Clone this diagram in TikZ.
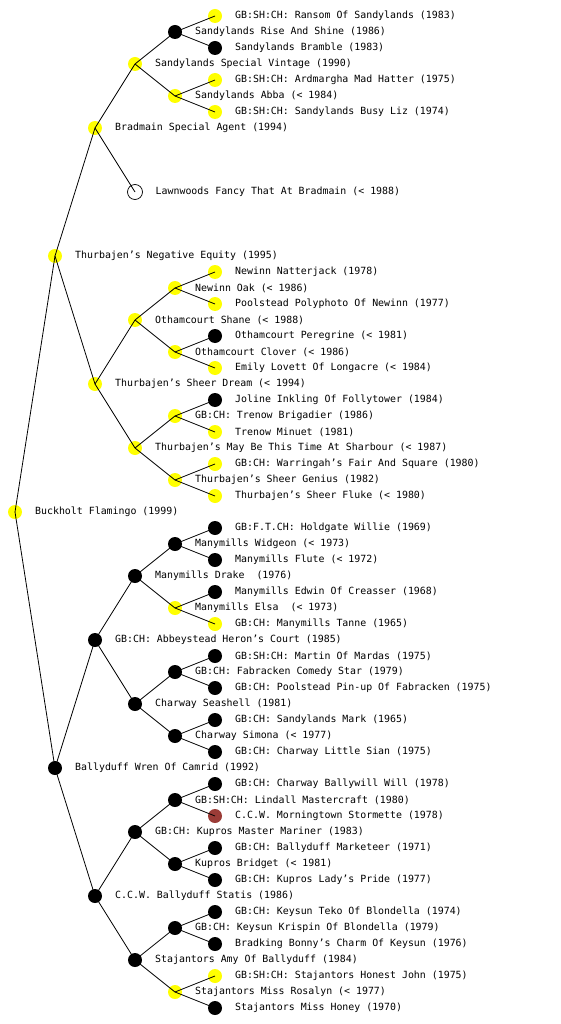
\documentclass[tikz,border=0pt]{standalone}
\usepackage{fontspec}
\usepackage{xcolor}
\usepackage{tikz}
\newfontfamily\dogfont{DejaVu Sans Mono}
\definecolor{DogYellow}{RGB}{255,255,0}
\definecolor{DogRed}{RGB}{155,60,55}
\tikzset{
  % Marcatori dei cani
  dog/.style={circle,minimum size=14,inner sep=0,outer sep=0},
  dog yes/.style={dog,fill=DogYellow},
  dog no/.style={dog,fill=black},
  dog red/.style={dog,fill=DogRed},
  dog open/.style={dog,draw=black,line width=0.7,minimum size=15},
  % Nomi a destra del marcatore
  dogname/.style={anchor=west,inner sep=0,font=\dogfont\fontsize{9.9}{12}\selectfont},
  nm/.style={label={[dogname,label distance=13]0:#1}},
  link/.style={black,line width=0.8}
}
\begin{document}
\begin{tikzpicture}[x=1pt,y=-1pt]
  \useasboundingbox (0,0) rectangle (560,1024);
  % generazione 0-2
  \node[dog yes,nm={Buckholt Flamingo (1999)}] (p) at (15,512) {};
  \node[dog yes,nm={Thurbajen’s Negative Equity (1995)}] (p0) at (55,256) {};
  \node[dog no,nm={Ballyduff Wren Of Camrid (1992)}] (p1) at (55,768) {};
  \node[dog yes,nm={Bradmain Special Agent (1994)}] (p00) at (95,128) {};
  \node[dog yes,nm={Thurbajen’s Sheer Dream (< 1994)}] (p01) at (95,384) {};
  \node[dog no,nm={GB:CH: Abbeystead Heron’s Court (1985)}] (p10) at (95,640) {};
  \node[dog no,nm={C.C.W. Ballyduff Statis (1986)}] (p11) at (95,896) {};
  % generazione 3
  \node[dog yes,nm={Sandylands Special Vintage (1990)}] (p000) at (135,64) {};
  \node[dog open,nm={Lawnwoods Fancy That At Bradmain (< 1988)}] (p001) at (135,192) {};
  \node[dog yes,nm={Othamcourt Shane (< 1988)}] (p010) at (135,320) {};
  \node[dog yes,nm={Thurbajen’s May Be This Time At Sharbour (< 1987)}] (p011) at (135,448) {};
  \node[dog no,nm={Manymills Drake\ \ (1976)}] (p100) at (135,576) {};
  \node[dog no,nm={Charway Seashell (1981)}] (p101) at (135,704) {};
  \node[dog no,nm={GB:CH: Kupros Master Mariner (1983)}] (p110) at (135,832) {};
  \node[dog no,nm={Stajantors Amy Of Ballyduff (1984)}] (p111) at (135,960) {};
  % generazione 4
  \node[dog no,nm={Sandylands Rise And Shine (1986)}] (p0000) at (175,32) {};
  \node[dog yes,nm={Sandylands Abba (< 1984)}] (p0001) at (175,96) {};
  \node[dog yes,nm={Newinn Oak (< 1986)}] (p0100) at (175,288) {};
  \node[dog yes,nm={Othamcourt Clover (< 1986)}] (p0101) at (175,352) {};
  \node[dog yes,nm={GB:CH: Trenow Brigadier (1986)}] (p0110) at (175,416) {};
  \node[dog yes,nm={Thurbajen’s Sheer Genius (1982)}] (p0111) at (175,480) {};
  \node[dog no,nm={Manymills Widgeon (< 1973)}] (p1000) at (175,544) {};
  \node[dog yes,nm={Manymills Elsa\ \ (< 1973)}] (p1001) at (175,608) {};
  \node[dog no,nm={GB:CH: Fabracken Comedy Star (1979)}] (p1010) at (175,672) {};
  \node[dog no,nm={Charway Simona (< 1977)}] (p1011) at (175,736) {};
  \node[dog no,nm={GB:SH:CH: Lindall Mastercraft (1980)}] (p1100) at (175,800) {};
  \node[dog no,nm={Kupros Bridget (< 1981)}] (p1101) at (175,864) {};
  \node[dog no,nm={GB:CH: Keysun Krispin Of Blondella (1979)}] (p1110) at (175,928) {};
  \node[dog yes,nm={Stajantors Miss Rosalyn (< 1977)}] (p1111) at (175,992) {};
  % generazione 5
  \node[dog yes,nm={GB:SH:CH: Ransom Of Sandylands (1983)}] (p00000) at (215,16) {};
  \node[dog no,nm={Sandylands Bramble (1983)}] (p00001) at (215,48) {};
  \node[dog yes,nm={GB:SH:CH: Ardmargha Mad Hatter (1975)}] (p00010) at (215,80) {};
  \node[dog yes,nm={GB:SH:CH: Sandylands Busy Liz (1974)}] (p00011) at (215,112) {};
  \node[dog yes,nm={Newinn Natterjack (1978)}] (p01000) at (215,272) {};
  \node[dog yes,nm={Poolstead Polyphoto Of Newinn (1977)}] (p01001) at (215,304) {};
  \node[dog no,nm={Othamcourt Peregrine (< 1981)}] (p01010) at (215,336) {};
  \node[dog yes,nm={Emily Lovett Of Longacre (< 1984)}] (p01011) at (215,368) {};
  \node[dog no,nm={Joline Inkling Of Follytower (1984)}] (p01100) at (215,400) {};
  \node[dog yes,nm={Trenow Minuet (1981)}] (p01101) at (215,432) {};
  \node[dog yes,nm={GB:CH: Warringah’s Fair And Square (1980)}] (p01110) at (215,464) {};
  \node[dog yes,nm={Thurbajen’s Sheer Fluke (< 1980)}] (p01111) at (215,496) {};
  \node[dog no,nm={GB:F.T.CH: Holdgate Willie (1969)}] (p10000) at (215,528) {};
  \node[dog no,nm={Manymills Flute (< 1972)}] (p10001) at (215,560) {};
  \node[dog no,nm={Manymills Edwin Of Creasser (1968)}] (p10010) at (215,592) {};
  \node[dog yes,nm={GB:CH: Manymills Tanne (1965)}] (p10011) at (215,624) {};
  \node[dog no,nm={GB:SH:CH: Martin Of Mardas (1975)}] (p10100) at (215,656) {};
  \node[dog no,nm={GB:CH: Poolstead Pin-up Of Fabracken (1975)}] (p10101) at (215,688) {};
  \node[dog no,nm={GB:CH: Sandylands Mark (1965)}] (p10110) at (215,720) {};
  \node[dog no,nm={GB:CH: Charway Little Sian (1975)}] (p10111) at (215,752) {};
  \node[dog no,nm={GB:CH: Charway Ballywill Will (1978)}] (p11000) at (215,784) {};
  \node[dog red,nm={C.C.W. Morningtown Stormette (1978)}] (p11001) at (215,816) {};
  \node[dog no,nm={GB:CH: Ballyduff Marketeer (1971)}] (p11010) at (215,848) {};
  \node[dog no,nm={GB:CH: Kupros Lady’s Pride (1977)}] (p11011) at (215,880) {};
  \node[dog no,nm={GB:CH: Keysun Teko Of Blondella (1974)}] (p11100) at (215,912) {};
  \node[dog no,nm={Bradking Bonny’s Charm Of Keysun (1976)}] (p11101) at (215,944) {};
  \node[dog yes,nm={GB:SH:CH: Stajantors Honest John (1975)}] (p11110) at (215,976) {};
  \node[dog no,nm={Stajantors Miss Honey (1970)}] (p11111) at (215,1008) {};
  % collegamenti genitore-figlio
  \foreach \a in {p,p0,p1,p00,p01,p10,p11,p000,p010,p011,p100,p101,p110,p111,
    p0000,p0001,p0100,p0101,p0110,p0111,p1000,p1001,p1010,p1011,p1100,p1101,p1110,p1111}{
    \draw[link] (\a.center) -- (\a0.center);
    \draw[link] (\a.center) -- (\a1.center);
  }
\end{tikzpicture}
\end{document}
